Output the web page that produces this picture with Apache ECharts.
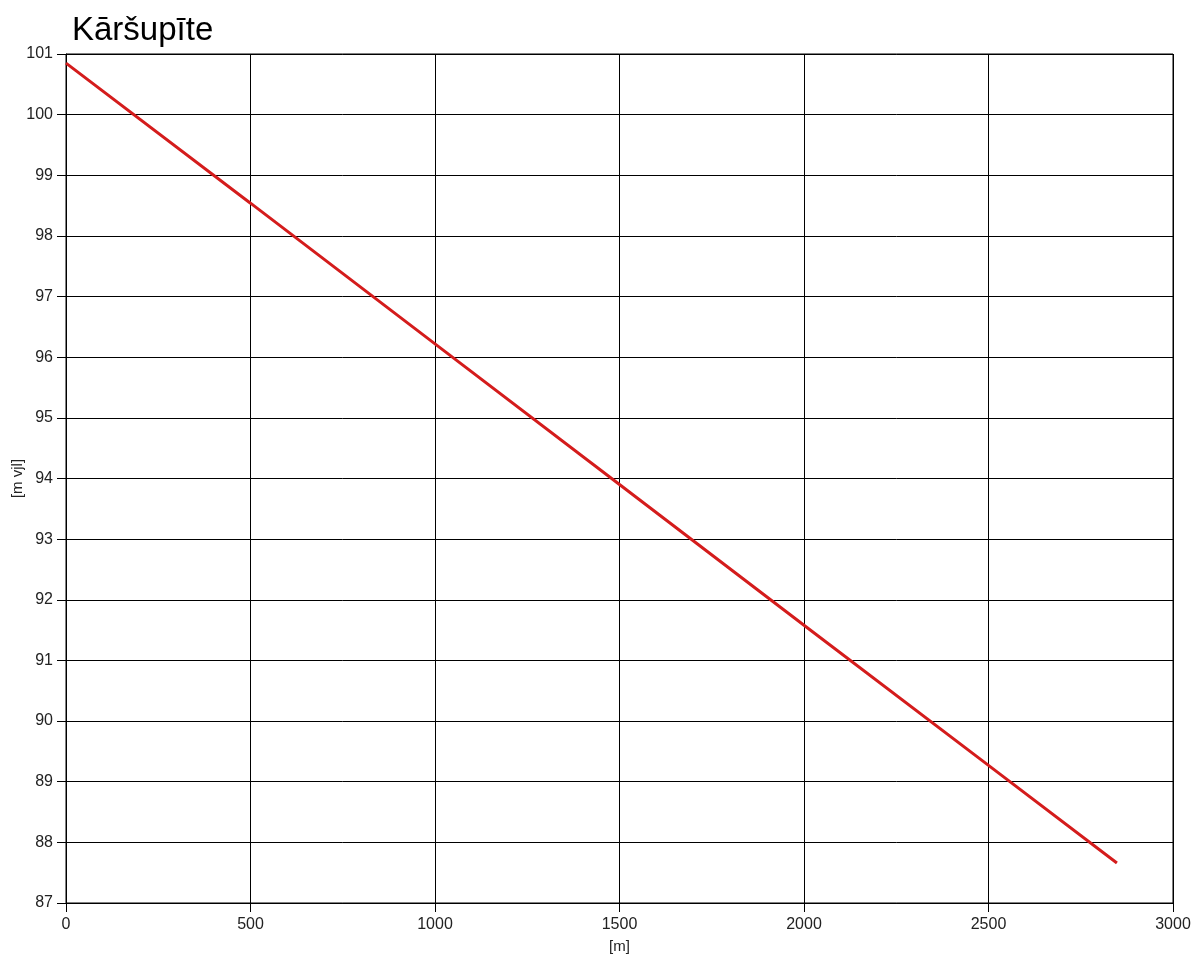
<!DOCTYPE html>
<html><head><meta charset="utf-8">
<script src="https://cdn.jsdelivr.net/npm/echarts@6/dist/echarts.min.js"></script>
<style>html,body{margin:0;padding:0;background:#fff}#c{width:1203px;height:956px}</style>
</head><body><div id="c"></div>
<script>
const title = 'Kāršupīte';
const xName = '[m]';
const yName = '[m vjl]';
const distance = [0, 500, 1000, 1500, 2000, 2500, 2848];
const elevation = [100.85, 98.54, 96.22, 93.9, 91.58, 89.27, 87.66];

const chart = echarts.init(document.getElementById('c'), null, {renderer: 'canvas'});
const font = 'Liberation Sans, Arial, sans-serif';
chart.setOption({
  animation: false,
  backgroundColor: '#fff',
  title: {text: title, left: 67, top: 9, textStyle: {fontFamily: font, fontSize: 33, fontWeight: 'normal', color: '#000'}},
  grid: {left: 66, right: 30, top: 54, bottom: 53, show: true, borderColor: '#000', borderWidth: 1,
         containLabel: false, outerBoundsMode: 'none'},
  xAxis: {
    type: 'value', min: 0, max: 3000, interval: 500,
    name: xName, nameLocation: 'middle', nameGap: 36, nameMoveOverlap: false,
    nameTextStyle: {fontFamily: font, fontSize: 15, color: '#222'},
    axisLine: {lineStyle: {color: '#000'}},
    axisTick: {show: true, length: 9, lineStyle: {color: '#000'}},
    axisLabel: {fontFamily: font, fontSize: 16, color: '#222', margin: 14, formatter: v => String(v)},
    splitLine: {show: true, lineStyle: {color: '#000', width: 1}}
  },
  yAxis: {
    type: 'value', min: 87, max: 101, interval: 1,
    name: yName, nameLocation: 'middle', nameGap: 41, nameMoveOverlap: false,
    nameTextStyle: {fontFamily: font, fontSize: 15, color: '#222'},
    axisLine: {show: true, lineStyle: {color: '#000'}},
    axisTick: {show: true, length: 9, lineStyle: {color: '#000'}},
    axisLabel: {fontFamily: font, fontSize: 16, color: '#222', margin: 13, formatter: v => String(v)},
    splitLine: {show: true, lineStyle: {color: '#000', width: 1}}
  },
  series: [{
    type: 'line', data: distance.map((d, i) => [d, elevation[i]]),
    showSymbol: false, lineStyle: {color: '#d41c1c', width: 3}
  }]
});
</script></body></html>
